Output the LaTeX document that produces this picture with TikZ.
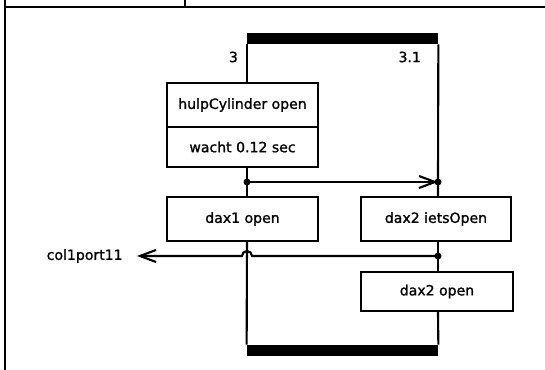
\documentclass[tikz,border=0pt]{standalone}
\usepackage{fontspec}
\setmainfont[FakeBold=1.2]{DejaVu Sans}
\usetikzlibrary{arrows.meta,positioning,calc}

\begin{document}
\begin{tikzpicture}[
    every node/.style={font=\fontsize{8}{9}\selectfont},
    stepbox/.style={draw=black, line width=1.2pt, rectangle,
                inner sep=2pt, minimum height=8.8mm, minimum width=30.2mm,
                fill=white, align=center},
    bar/.style={fill=black, rectangle, inner sep=0pt,
                minimum width=38.2mm, minimum height=2.2mm},
    wire/.style={line width=1.2pt},
    arrow/.style={wire, -{Straight Barb[length=3.2mm,width=2.4mm]}},
    dot/.style={circle, fill=black, inner sep=0pt, minimum size=1.4mm},
    tag/.style={inner sep=1pt}
  ]
    \useasboundingbox (0,0) rectangle (10.9,-7.4);

    % Frame
    \draw[wire] (0.1,0) -- (0.1,-7.4);
    \draw[wire] (0.1,-0.14) -- (10.9,-0.14);
    \draw[wire] (3.7,0) -- (3.7,-0.14);

    % Bars
    \node[bar] (topbar) at (6.85,-0.77) {};
    \node[bar] (botbar) at (6.85,-7.01) {};

    % Steps
    \node[stepbox] (hulp)  at (4.85,-2.10) {hulpCylinder open};
    \node[stepbox, minimum height=8mm] (wacht) at (4.85,-2.94) {wacht 0.12 sec};
    \node[stepbox] (dax1)  at (4.85,-4.38) {dax1 open};
    \node[stepbox, minimum width=30mm] (iets) at (8.72,-4.38) {dax2 ietsOpen};
    \node[stepbox, minimum width=30.4mm, minimum height=7.8mm] (open2) at (8.74,-5.83) {dax2 open};

    % Branch numbers
    \node[tag, anchor=east] (numL) at (4.80,-1.14) {3};
    \node[tag, anchor=east] (numR) at (8.46,-1.14) {3.1};

    % Junctions
    \node[dot] (split) at (4.94,-3.64) {};
    \node[dot] (join)  at (8.76,-3.64) {};
    \node[dot] (tap)   at (8.76,-5.12) {};
    \coordinate (hop) at (4.94,-5.12);
    \coordinate (portend) at (2.74,-5.12);
    \node[tag, inner sep=0pt, left=0.28cm of portend] (port) {col1port11};

    % Left spine
    \draw[wire] (topbar.south west) -- (topbar.south west |- hulp.north);
    \draw[wire] (split |- wacht.south) -- (split.center) -- (split |- dax1.north);
    \draw[wire] (split |- dax1.south) -- (botbar.north west);

    % Right spine
    \draw[wire] (topbar.south east) -- (join.center) -- (join |- iets.north);
    \draw[wire] (join |- iets.south) -- (tap.center) -- (tap |- open2.north);
    \draw[wire] (tap |- open2.south) -- (botbar.north east);

    % Fork arrow
    \draw[arrow] (split.center) -- (join.center);

    % Output arrow, hopping over the spine
    \draw[arrow] (tap.center) -- ($(hop)+(0.1,0)$)
      arc[start angle=0, end angle=180, radius=0.1] -- (portend);
  \end{tikzpicture}
\end{document}
